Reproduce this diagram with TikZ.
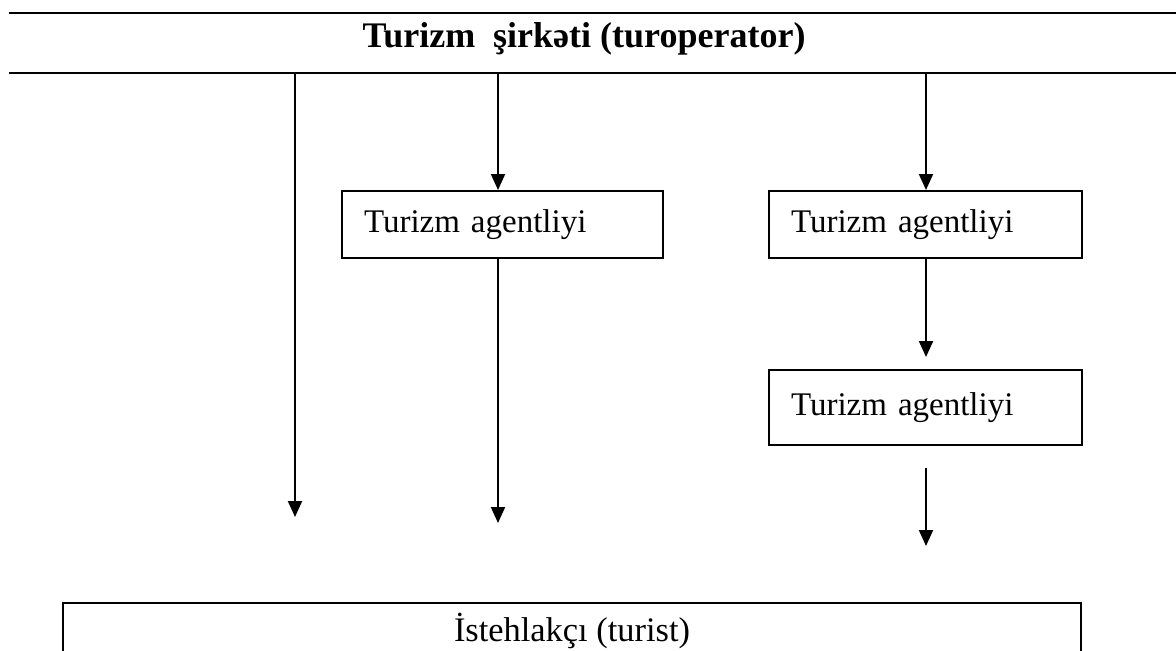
\documentclass[tikz,border=0pt]{standalone}
\usepackage{fontspec}
\setmainfont{Liberation Serif}
\usetikzlibrary{arrows.meta}
\begin{document}
\begin{tikzpicture}[x=0.5pt,y=-0.5pt,
  rule/.style={line width=1pt},
  flow/.style={line width=1pt,-{Triangle[length=8pt,width=7pt]}},
  agbox/.style={draw,line width=1pt,inner xsep=11pt,inner ysep=0pt,align=left,
    font=\fontsize{16.5}{20}\selectfont},
  titletext/.style={font=\bfseries\fontsize{18}{22}\selectfont,inner sep=0pt},
  consbox/.style={draw,line width=1pt,anchor=north,minimum width=509pt,inner ysep=5pt,
    text height=14pt,text depth=40pt,font=\fontsize{17.2}{20}\selectfont}]
\useasboundingbox (0,0) rectangle (1176,650);
\clip (0,0) rectangle (1176,650);
% horizontal rules around the title
\coordinate (t1l) at (9,13); \coordinate (t1r) at (1176,13);
\coordinate (t2l) at (9,73); \coordinate (t2r) at (1176,73);
\draw[rule] (t1l) -- (t1r);
\draw[rule] (t2l) -- (t2r);
\node[titletext] (title) at (584,39) {Turizm~~şirkəti (turoperator)};
% starting points on the lower rule
\coordinate (s1) at (295,73);
\coordinate (s2) at (498,73);
\coordinate (s3) at (926,73);
% agency boxes
\node[agbox,minimum width=160.5pt,minimum height=33.5pt,text width=138.5pt] (a1) at (502.5,224.5) {Turizm agentliyi};
\node[agbox,minimum width=156.5pt,minimum height=33.5pt,text width=134.5pt] (a2) at (925.5,224.5) {Turizm agentliyi};
\node[agbox,minimum width=156.5pt,minimum height=37.5pt,text width=134.5pt] (a3) at (925.5,407.5) {Turizm agentliyi};
% consumer box
\node[consbox] (c) at (572,602) {İstehlakçı (turist)};
% free arrow ends
\coordinate (e1) at (295,517);
\coordinate (e2) at (498,523);
\coordinate (e3) at (926,546);
% connectors
\draw[flow] (s1) -- (e1);
\draw[flow] (s2) -- (s2 |- a1.north);
\draw[flow] (a1.south -| s2) -- (e2);
\draw[flow] (s3) -- (s3 |- a2.north);
\draw[flow,shorten >=6pt] (a2.south -| s3) -- (s3 |- a3.north);
\draw[flow,shorten <=11pt] (a3.south -| s3) -- (e3);
\end{tikzpicture}
\end{document}
